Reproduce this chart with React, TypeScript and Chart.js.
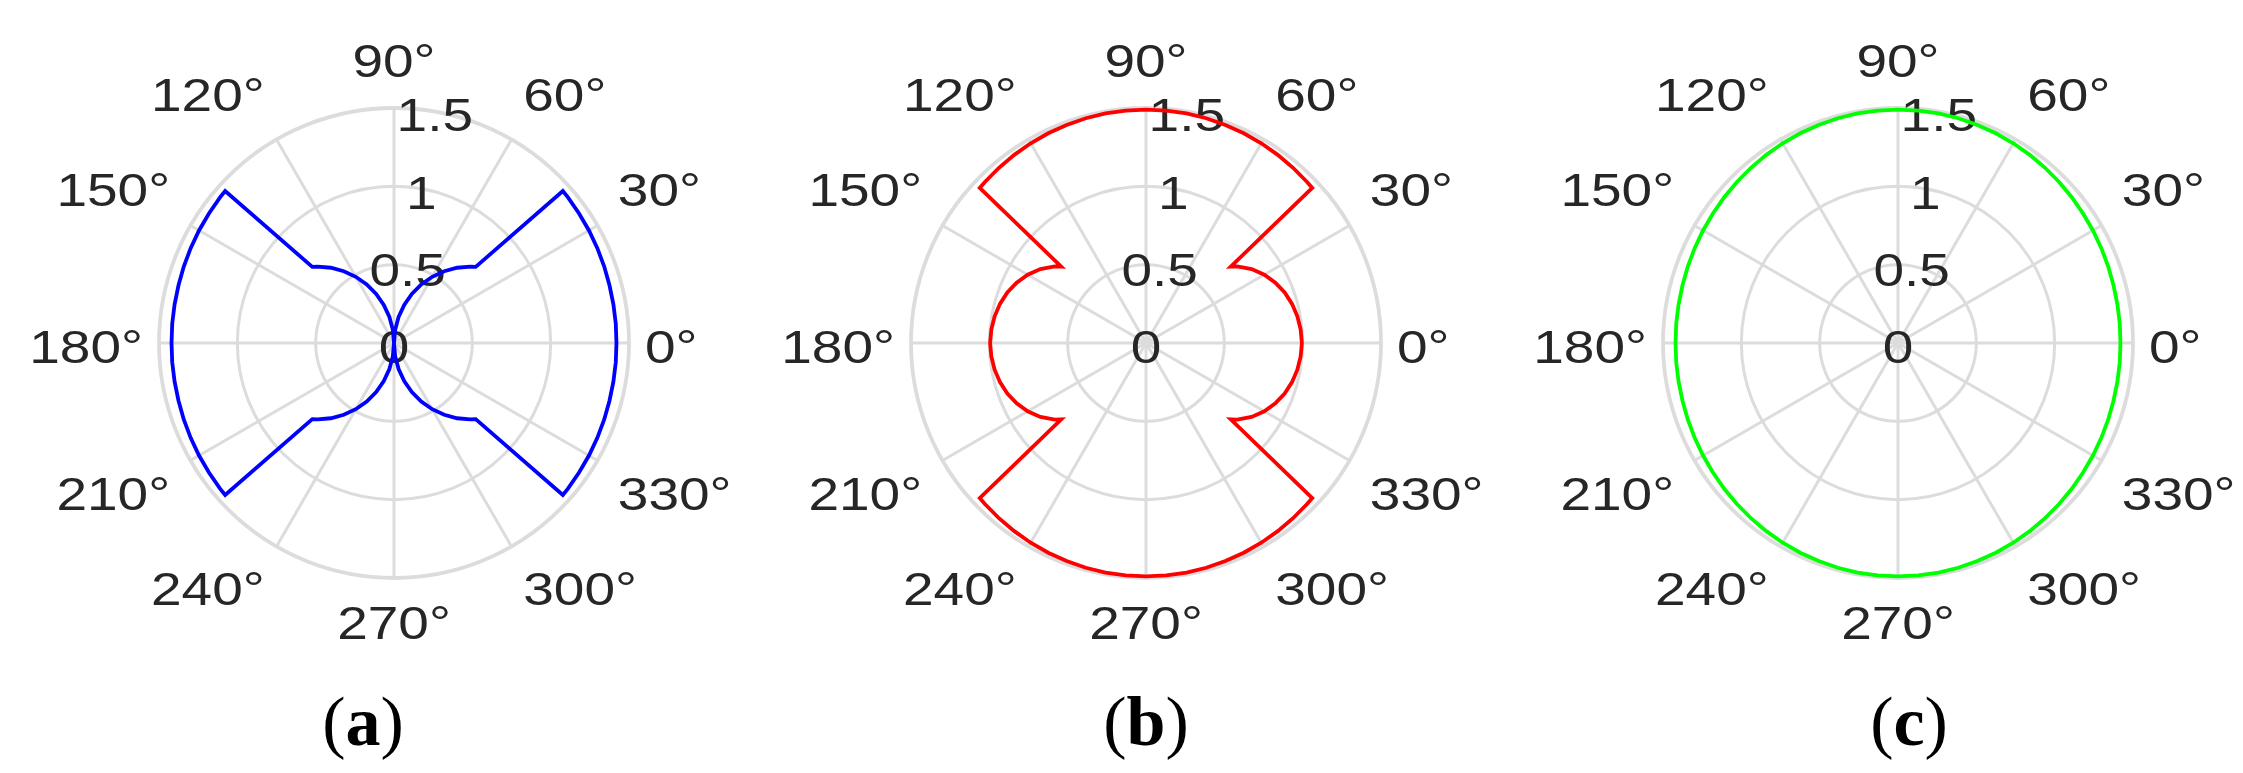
import React, { useEffect, useRef } from 'react';
import { Chart, registerables } from 'chart.js';

Chart.register(...registerables);

// ---- axis ticks ----
const thetaTicks = [0, 30, 60, 90, 120, 150, 180, 210, 240, 270, 300, 330];
const rTicks = [0, 0.5, 1, 1.5];
const rMax = 1.5;

// ---- series (angle in degrees, radius) ----
const blueTheta = [0, 5, 10, 15, 20, 25, 30, 35, 40, 42, 43, 45, 50, 55, 60, 65, 70, 75, 80, 85, 90, 95, 100, 105, 110, 115, 120, 125, 130, 135, 137, 138, 140, 145, 150, 155, 160, 165, 170, 175, 180, 185, 190, 195, 200, 205, 210, 215, 220, 222, 223, 225, 230, 235, 240, 245, 250, 255, 260, 265, 270, 275, 280, 285, 290, 295, 300, 305, 310, 315, 317, 318, 320, 325, 330, 335, 340, 345, 350, 355];
const blueR = [
  1.420, 1.421, 1.422, 1.424, 1.428, 1.432, 1.437, 1.442, 1.448, 1.450,
  0.713, 0.689, 0.627, 0.559, 0.488, 0.412, 0.333, 0.252, 0.169, 0.085, 0.000,
  0.085, 0.169, 0.252, 0.333, 0.412, 0.488, 0.559, 0.627, 0.689, 0.713,
  1.450, 1.448, 1.442, 1.437, 1.432, 1.428, 1.424, 1.422, 1.421, 1.420, 1.421, 1.422, 1.424, 1.428, 1.432, 1.437, 1.442, 1.448, 1.450,
  0.713, 0.689, 0.627, 0.559, 0.488, 0.412, 0.333, 0.252, 0.169, 0.085, 0.000, 0.085, 0.169, 0.252, 0.333, 0.412, 0.488, 0.559, 0.627, 0.689, 0.713,
  1.450, 1.448, 1.442, 1.437, 1.432, 1.428, 1.424, 1.422, 1.421,
];

const redTheta = [0, 5, 10, 15, 20, 25, 30, 35, 40, 42, 43, 45, 50, 55, 60, 65, 70, 75, 80, 85, 90, 95, 100, 105, 110, 115, 120, 125, 130, 135, 137, 138, 140, 145, 150, 155, 160, 165, 170, 175, 180, 185, 190, 195, 200, 205, 210, 215, 220, 222, 223, 225, 230, 235, 240, 245, 250, 255, 260, 265, 270, 275, 280, 285, 290, 295, 300, 305, 310, 315, 317, 318, 320, 325, 330, 335, 340, 345, 350, 355];
const redR = [
  0.995, 0.991, 0.981, 0.965, 0.942, 0.911, 0.872, 0.823, 0.760, 0.728,
  1.451, 1.454, 1.460, 1.466, 1.472, 1.477, 1.481, 1.485, 1.488, 1.489, 1.490,
  1.489, 1.488, 1.485, 1.481, 1.477, 1.472, 1.466, 1.460, 1.454, 1.451,
  0.728, 0.760, 0.823, 0.872, 0.911, 0.942, 0.965, 0.981, 0.991, 0.995, 0.991, 0.981, 0.965, 0.942, 0.911, 0.872, 0.823, 0.760, 0.728,
  1.451, 1.454, 1.460, 1.466, 1.472, 1.477, 1.481, 1.485, 1.488, 1.489, 1.490, 1.489, 1.488, 1.485, 1.481, 1.477, 1.472, 1.466, 1.460, 1.454, 1.451,
  0.728, 0.760, 0.823, 0.872, 0.911, 0.942, 0.965, 0.981, 0.991,
];

const greenTheta = [0, 5, 10, 15, 20, 25, 30, 35, 40, 45, 50, 55, 60, 65, 70, 75, 80, 85, 90, 95, 100, 105, 110, 115, 120, 125, 130, 135, 140, 145, 150, 155, 160, 165, 170, 175, 180, 185, 190, 195, 200, 205, 210, 215, 220, 225, 230, 235, 240, 245, 250, 255, 260, 265, 270, 275, 280, 285, 290, 295, 300, 305, 310, 315, 320, 325, 330, 335, 340, 345, 350, 355];
const greenR = [
  1.420, 1.421, 1.422, 1.424, 1.428, 1.432, 1.437, 1.442, 1.448, 1.454, 1.460, 1.466, 1.472, 1.477, 1.481, 1.485, 1.488, 1.489,
  1.490, 1.489, 1.488, 1.485, 1.481, 1.477, 1.472, 1.466, 1.460, 1.454, 1.448, 1.442, 1.437, 1.432, 1.428, 1.424, 1.422, 1.421,
  1.420, 1.421, 1.422, 1.424, 1.428, 1.432, 1.437, 1.442, 1.448, 1.454, 1.460, 1.466, 1.472, 1.477, 1.481, 1.485, 1.488, 1.489,
  1.490, 1.489, 1.488, 1.485, 1.481, 1.477, 1.472, 1.466, 1.460, 1.454, 1.448, 1.442, 1.437, 1.432, 1.428, 1.424, 1.422, 1.421,
];

const panelLetters = ['a', 'b', 'c'];
const panelColors = ['#0000ff', '#ff0000', '#00ff00'];

// ---- layout / style ----
const H = 773;
const RADIUS = 235;
const panelLeft = [0, 748, 1496];
const panelWidth = [748, 748, 747];
const centerXLocal = [394, 398, 402];
const centerY = 343;
const captionX = [363, 1146, 1909];
const captionBaseline = 746;
const GRID = '#dcdcdc';
const TEXT = '#262626';
const FONT_SIZE = 47;
const TEXT_SX = 1.17;
const CAP = 0.716;

// label axis: index i runs clockwise from +x, so angle = (360 - i) % 360
const angleAxis = Array.from({ length: 360 }, (_, i) => (360 - i) % 360);

function buildData(theta: number[], r: number[]) {
  const m = new Map<number, number>();
  theta.forEach((t, k) => m.set(t, r[k]));
  return angleAxis.map((d) => (m.has(d) ? (m.get(d) as number) : null));
}

function drawText(ctx: CanvasRenderingContext2D, text: string, x: number, y: number, align: CanvasTextAlign) {
  ctx.save();
  ctx.translate(x, y);
  ctx.scale(TEXT_SX, 1);
  ctx.textAlign = align;
  ctx.textBaseline = 'alphabetic';
  ctx.fillText(text, 0, 0);
  ctx.restore();
}

const polarLabels = {
  id: 'polarLabels',
  beforeDatasetsDraw(chart: any) {
    const s = chart.scales.r;
    const ctx: CanvasRenderingContext2D = chart.ctx;
    ctx.save();
    ctx.fillStyle = TEXT;
    ctx.font = `${FONT_SIZE}px "Liberation Sans", Arial, Helvetica, sans-serif`;
    const cap = FONT_SIZE * CAP;
    const a = (80 * Math.PI) / 180;
    rTicks.forEach((v) => {
      const d = s.getDistanceFromCenterForValue(v);
      drawText(ctx, String(v), s.xCenter + d * Math.cos(a), s.yCenter - d * Math.sin(a) + 3 + cap / 2, 'center');
    });
    thetaTicks.forEach((t) => {
      const idx = (360 - t) % 360;
      const rad = (t * Math.PI) / 180;
      const c = Math.cos(rad);
      const sn = Math.sin(rad);
      const horiz = Math.abs(sn) < 0.01;
      const p = s.getPointPosition(idx, s.drawingArea + (horiz ? 16 : 23.5));
      const align: CanvasTextAlign = c > 0.01 ? 'left' : c < -0.01 ? 'right' : 'center';
      let y: number;
      if (horiz) y = p.y + 3 + cap / 2;
      else if (sn > 0) y = p.y - 8;
      else y = p.y + 4 + cap;
      drawText(ctx, `${t}°`, p.x, y, align);
    });
    ctx.restore();
  },
};

function PolarPanel({ k, theta, r }: { k: number; theta: number[]; r: number[] }) {
  const ref = useRef<HTMLCanvasElement>(null);
  useEffect(() => {
    const W = panelWidth[k];
    const pl = centerXLocal[k] - RADIUS;
    const pt = centerY - RADIUS;
    const side = 2 * RADIUS + 1;
    const chart = new Chart(ref.current as HTMLCanvasElement, {
      type: 'radar',
      data: {
        labels: angleAxis.map((d) => `${d}`),
        datasets: [
          {
            data: buildData(theta, r),
            borderColor: panelColors[k],
            backgroundColor: 'transparent',
            borderWidth: 3.8,
            pointRadius: 0,
            pointHoverRadius: 0,
            fill: false,
            spanGaps: true,
            tension: 0,
          },
        ],
      },
      options: {
        responsive: false,
        animation: false,
        events: [],
        layout: { padding: { left: pl, top: pt, right: W - pl - side, bottom: H - pt - side } },
        plugins: { legend: { display: false }, tooltip: { enabled: false } },
        scales: {
          r: {
            min: 0,
            max: rMax,
            startAngle: 90,
            ticks: { display: false, stepSize: 0.5 },
            pointLabels: { display: false },
            grid: {
              circular: true,
              color: GRID,
              lineWidth: (c: any) => (c.tick && c.tick.value === rMax ? 3.8 : 3),
            },
            angleLines: {
              display: true,
              color: GRID,
              lineWidth: (c: any) => (angleAxis[c.index] % 30 === 0 ? 3 : 0),
            },
          },
        },
      } as any,
      plugins: [polarLabels],
    });
    return () => chart.destroy();
  }, []);
  return (
    <canvas
      ref={ref}
      width={panelWidth[k]}
      height={H}
      style={{ position: 'absolute', left: panelLeft[k], top: 0, width: panelWidth[k], height: H }}
    />
  );
}

function Caption({ k }: { k: number }) {
  const fs = 70;
  return (
    <div
      style={{
        position: 'absolute',
        left: captionX[k] - 100,
        top: captionBaseline - 58.6,
        width: 200,
        textAlign: 'center',
        fontFamily: '"Liberation Serif", "Times New Roman", serif',
        fontSize: fs,
        lineHeight: `${fs}px`,
        color: '#000',
        whiteSpace: 'nowrap',
      }}
    >
      (<b>{panelLetters[k]}</b>)
    </div>
  );
}

export default function App() {
  const series = [
    [blueTheta, blueR],
    [redTheta, redR],
    [greenTheta, greenR],
  ];
  return (
    <div style={{ position: 'absolute', left: 0, top: 0, width: 2243, height: H, background: '#fff', overflow: 'hidden' }}>
      {series.map(([t, r], k) => (
        <PolarPanel key={k} k={k} theta={t} r={r} />
      ))}
      {[0, 1, 2].map((k) => (
        <Caption key={`c${k}`} k={k} />
      ))}
    </div>
  );
}
